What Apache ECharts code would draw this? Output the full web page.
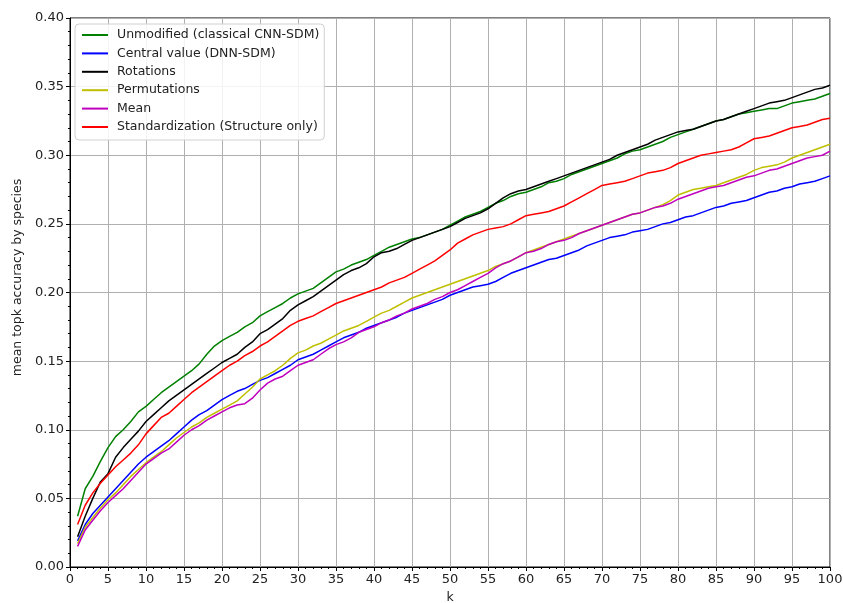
<!DOCTYPE html>
<html>
<head>
<meta charset="utf-8">
<script src="https://cdn.jsdelivr.net/npm/echarts@6/dist/echarts.min.js"></script>
<style>html,body{margin:0;padding:0;background:#fff;}#chart{width:843px;height:603px;}</style>
</head>
<body>
<div id="chart"></div>
<script>
const seriesNames = ["Unmodified (classical CNN-SDM)", "Central value (DNN-SDM)", "Rotations", "Permutations", "Mean", "Standardization (Structure only)"];
const xTicks = [0,5,10,15,20,25,30,35,40,45,50,55,60,65,70,75,80,85,90,95,100];
const yTicks = [0.00,0.05,0.10,0.15,0.20,0.25,0.30,0.35,0.40];

const unmodified = [0.037,0.057,0.066,0.077,0.087,0.095,0.100,0.106,0.113,0.117,0.122,0.127,0.131,0.135,0.139,0.143,0.148,0.155,0.161,0.165,0.168,0.171,0.175,0.178,0.183,0.186,0.189,0.192,0.196,0.199,0.201,0.203,0.207,0.211,0.215,0.217,0.220,0.222,0.224,0.227,0.230,0.233,0.235,0.237,0.239,0.240,0.242,0.244,0.246,0.249,0.252,0.255,0.257,0.259,0.262,0.265,0.267,0.270,0.272,0.273,0.275,0.277,0.280,0.281,0.283,0.286,0.288,0.290,0.292,0.294,0.296,0.298,0.301,0.303,0.304,0.306,0.308,0.310,0.313,0.315,0.317,0.319,0.321,0.323,0.325,0.326,0.328,0.330,0.331,0.332,0.333,0.334,0.334,0.336,0.338,0.339,0.340,0.341,0.343,0.345];
const centralValue = [0.019,0.031,0.039,0.045,0.051,0.057,0.063,0.069,0.075,0.080,0.084,0.088,0.092,0.097,0.102,0.107,0.111,0.114,0.118,0.122,0.125,0.128,0.130,0.133,0.136,0.138,0.141,0.144,0.147,0.151,0.153,0.155,0.158,0.161,0.164,0.167,0.169,0.171,0.174,0.176,0.178,0.180,0.182,0.185,0.187,0.189,0.191,0.193,0.195,0.198,0.200,0.202,0.204,0.205,0.206,0.208,0.211,0.214,0.216,0.218,0.220,0.222,0.224,0.225,0.227,0.229,0.231,0.234,0.236,0.238,0.240,0.241,0.242,0.244,0.245,0.246,0.248,0.250,0.251,0.253,0.255,0.256,0.258,0.260,0.262,0.263,0.265,0.266,0.267,0.269,0.271,0.273,0.274,0.276,0.277,0.279,0.280,0.281,0.283,0.285];
const rotations = [0.022,0.037,0.050,0.062,0.068,0.080,0.087,0.093,0.099,0.106,0.111,0.116,0.121,0.125,0.129,0.133,0.137,0.141,0.145,0.149,0.152,0.155,0.160,0.164,0.170,0.173,0.177,0.181,0.187,0.191,0.194,0.197,0.201,0.205,0.209,0.213,0.216,0.218,0.221,0.226,0.229,0.230,0.232,0.235,0.238,0.240,0.242,0.244,0.246,0.248,0.251,0.254,0.256,0.258,0.261,0.265,0.269,0.272,0.274,0.275,0.277,0.279,0.281,0.283,0.285,0.287,0.289,0.291,0.293,0.295,0.297,0.300,0.302,0.304,0.306,0.308,0.311,0.313,0.315,0.317,0.318,0.319,0.321,0.323,0.325,0.326,0.328,0.330,0.332,0.334,0.336,0.338,0.339,0.340,0.342,0.344,0.346,0.348,0.349,0.351];
const permutations = [0.017,0.029,0.036,0.043,0.049,0.054,0.060,0.066,0.071,0.076,0.080,0.084,0.089,0.094,0.098,0.102,0.105,0.109,0.112,0.115,0.118,0.121,0.126,0.131,0.137,0.140,0.143,0.147,0.152,0.156,0.158,0.161,0.163,0.166,0.169,0.172,0.174,0.176,0.179,0.182,0.185,0.187,0.190,0.193,0.196,0.198,0.200,0.202,0.204,0.206,0.208,0.210,0.212,0.214,0.216,0.219,0.221,0.223,0.226,0.229,0.231,0.233,0.235,0.237,0.239,0.241,0.243,0.245,0.247,0.249,0.251,0.253,0.255,0.257,0.258,0.260,0.262,0.264,0.267,0.271,0.273,0.275,0.276,0.277,0.278,0.280,0.282,0.284,0.286,0.289,0.291,0.292,0.293,0.295,0.298,0.300,0.302,0.304,0.306,0.308];
const meanVals = [0.015,0.027,0.034,0.041,0.047,0.052,0.057,0.063,0.069,0.075,0.079,0.083,0.086,0.091,0.096,0.100,0.103,0.107,0.110,0.113,0.116,0.118,0.119,0.123,0.129,0.134,0.137,0.139,0.143,0.147,0.149,0.151,0.155,0.159,0.162,0.164,0.167,0.171,0.173,0.175,0.178,0.180,0.183,0.185,0.188,0.190,0.192,0.195,0.197,0.200,0.202,0.205,0.208,0.211,0.214,0.218,0.221,0.223,0.226,0.229,0.230,0.232,0.235,0.237,0.238,0.240,0.243,0.245,0.247,0.249,0.251,0.253,0.255,0.257,0.258,0.260,0.262,0.263,0.265,0.268,0.270,0.272,0.274,0.276,0.277,0.278,0.280,0.282,0.284,0.285,0.287,0.289,0.290,0.292,0.294,0.296,0.298,0.299,0.300,0.303];
const standardization = [0.031,0.045,0.054,0.061,0.067,0.073,0.078,0.083,0.089,0.097,0.103,0.109,0.112,0.117,0.122,0.127,0.131,0.135,0.139,0.143,0.147,0.150,0.154,0.157,0.161,0.164,0.168,0.172,0.176,0.179,0.181,0.183,0.186,0.189,0.192,0.194,0.196,0.198,0.200,0.202,0.204,0.207,0.209,0.211,0.214,0.217,0.220,0.223,0.227,0.231,0.236,0.239,0.242,0.244,0.246,0.247,0.248,0.250,0.253,0.256,0.257,0.258,0.259,0.261,0.263,0.266,0.269,0.272,0.275,0.278,0.279,0.280,0.281,0.283,0.285,0.287,0.288,0.289,0.291,0.294,0.296,0.298,0.300,0.301,0.302,0.303,0.304,0.306,0.309,0.312,0.313,0.314,0.316,0.318,0.320,0.321,0.322,0.324,0.326,0.327];

const colors = ['#008000', '#0000ff', '#000000', '#bfbf00', '#bf00bf', '#ff0000'];
const allValues = [unmodified, centralValue, rotations, permutations, meanVals, standardization];

function toPairs(vals) { return vals.map((v, i) => [i + 1, v]); }

const FONT = 'DejaVu Sans';
const chart = echarts.init(document.getElementById('chart'), null, {renderer: 'canvas'});
chart.setOption({
  animation: false,
  backgroundColor: '#ffffff',
  textStyle: {fontFamily: FONT},
  grid: {left: 70, right: 13, top: 18, bottom: 36, show: true, borderColor: '#000', borderWidth: 1, backgroundColor: 'transparent', containLabel: false, outerBoundsMode: 'none'},
  legend: {
    orient: 'vertical', left: 75, top: 24,
    data: seriesNames,
    icon: 'rect',
    itemWidth: 26, itemHeight: 2, itemGap: 4.4,
    textStyle: {fontFamily: FONT, fontSize: 12.5, color: '#222', lineHeight: 14, padding: [0, 0, 0, 4]},
    backgroundColor: 'rgba(255,255,255,0.85)', borderColor: '#d0d0d0', borderWidth: 1, borderRadius: 4,
    padding: [4, 5, 6, 7]
  },
  xAxis: {
    type: 'value', min: xTicks[0], max: xTicks[xTicks.length - 1], interval: 5,
    name: 'k', nameLocation: 'middle', nameGap: 22,
    nameTextStyle: {fontFamily: FONT, fontSize: 12.5, color: '#222'},
    axisLine: {show: true, lineStyle: {color: '#000', width: 1}},
    axisTick: {show: true, inside: false, length: 4, lineStyle: {color: '#000'}},
    minorTick: {show: true, splitNumber: 5, length: 2, lineStyle: {color: '#000'}},
    axisLabel: {fontFamily: FONT, fontSize: 13, color: '#222', margin: 6},
    splitLine: {show: true, lineStyle: {color: '#b0b0b0', width: 1}}
  },
  yAxis: {
    type: 'value', min: yTicks[0], max: yTicks[yTicks.length - 1], interval: 0.05,
    name: 'mean topk accuracy by species', nameLocation: 'middle', nameGap: 41, nameRotate: 90,
    nameTextStyle: {fontFamily: FONT, fontSize: 12.5, color: '#222', padding: [0, 0, 0, 30]},
    axisLine: {show: true, lineStyle: {color: '#000', width: 1}},
    axisTick: {show: true, inside: false, length: 4, lineStyle: {color: '#000'}},
    minorTick: {show: true, splitNumber: 5, length: 2, lineStyle: {color: '#000'}},
    axisLabel: {fontFamily: FONT, fontSize: 13, color: '#222', margin: 6, formatter: v => v.toFixed(2)},
    splitLine: {show: true, lineStyle: {color: '#b0b0b0', width: 1}}
  },
  series: seriesNames.map((name, i) => ({
    name: name, type: 'line', data: toPairs(allValues[i]),
    symbol: 'none', smooth: false,
    lineStyle: {color: colors[i], width: 1.5},
    itemStyle: {color: colors[i]}
  }))
});
</script>
</body>
</html>
